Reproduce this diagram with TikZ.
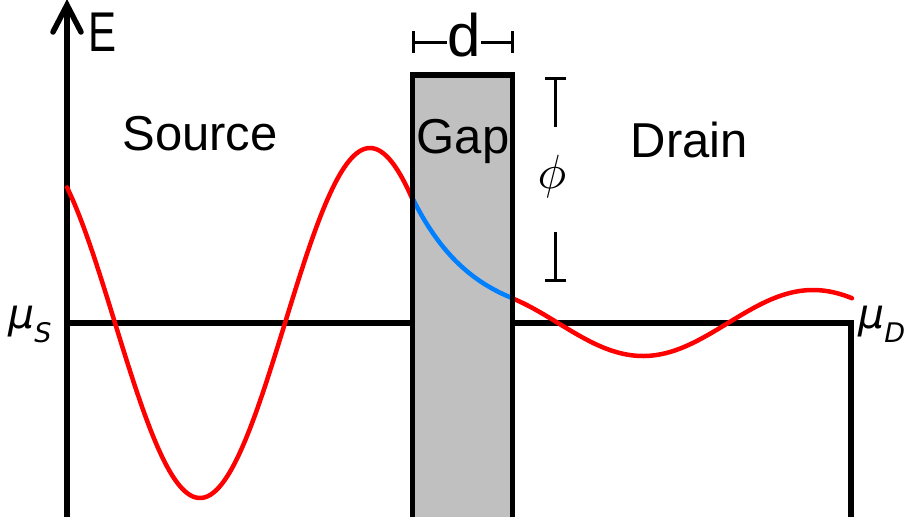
\documentclass[tikz,border=0pt]{standalone}
\usepackage{fontspec}
\setmainfont{Liberation Sans}
\newfontfamily\mufont{DejaVu Sans}
\definecolor{gapgray}{RGB}{192,192,192}
\definecolor{waveblue}{RGB}{0,128,255}
\begin{document}
\begin{tikzpicture}[x=1pt,y=-1pt,
  blk/.style={line width=5.5pt,black},
  thin/.style={line width=3pt,black},
  wave/.style={line width=4.5pt,line cap=round,line join=round},
  lbl/.style={inner sep=0pt,font=\fontsize{49}{58}\selectfont},
  mulbl/.style={inner sep=0pt,anchor=base west,font=\mufont\itshape\fontsize{41}{46}\selectfont}
]
\useasboundingbox (0,0) rectangle (912,523);
% gap fill
\fill[gapgray] (412.5,75) rectangle (512.5,517);
% axis
\draw[blk] (67,517) -- (67,5);
\draw[blk,line cap=round,line join=miter] (53,32) -- (67,5) -- (81,32);
% chemical potential lines
\draw[blk] (67,323) -- (412.5,323);
\draw[blk,line join=miter] (512.5,323) -- (851,323) -- (851,517);
% wave function
\draw[wave,red] plot[domain=67:412.5,samples=160] (\x,{323+175*cos((\x-200)*1.058824)});
\draw[wave,waveblue] plot[domain=412.5:512.5,samples=80] (\x,{323-124.8*exp(-0.01616*(\x-412.5))});
\draw[wave,red] plot[domain=512.5:852,samples=120] (\x,{323+33*sin((\x-558)*1.058824)});
% gap border
\draw[blk,line join=miter] (412.5,517) -- (412.5,75) -- (512.5,75) -- (512.5,517);
% d marker
\node[lbl,anchor=base,font=\fontsize{60}{70}\selectfont] (dlab) at (464,56) {d};
\coordinate (dL) at (413,42);
\coordinate (dR) at (512,42);
\draw[thin] (dL) -- (dlab.west |- dL);
\draw[thin] (dlab.east |- dR) -- (dR);
\draw[thin] (413,31) -- (413,53);
\draw[thin] (512,31) -- (512,53);
% phi marker
\node[inner sep=0pt,scale=4.8] (phi) at (552,176) {$\phi$};
\coordinate (pT) at (555,78);
\coordinate (pB) at (555,280);
\draw[thin] (pT) -- (555,127);
\draw[thin] (555,232) -- (pB);
\draw[thin] (545,78) -- (566,78);
\draw[thin] (545,280) -- (566,280);
% labels
\node[lbl,anchor=base west,font=\fontsize{56}{64}\selectfont,xscale=0.75] (E) at (88,51) {E};
\node[lbl,anchor=base] (src) at (200,150) {Source};
\node[lbl,anchor=base] (gap) at (463,153) {Gap};
\node[lbl,anchor=base] (drn) at (689.5,157) {Drain};
\node[mulbl] (muS) at (8,328) {μ\raisebox{-14pt}{\fontsize{27}{30}\selectfont S}};
\node[mulbl] (muD) at (858,328) {μ\raisebox{-14pt}{\fontsize{27}{30}\selectfont D}};
\end{tikzpicture}
\end{document}
